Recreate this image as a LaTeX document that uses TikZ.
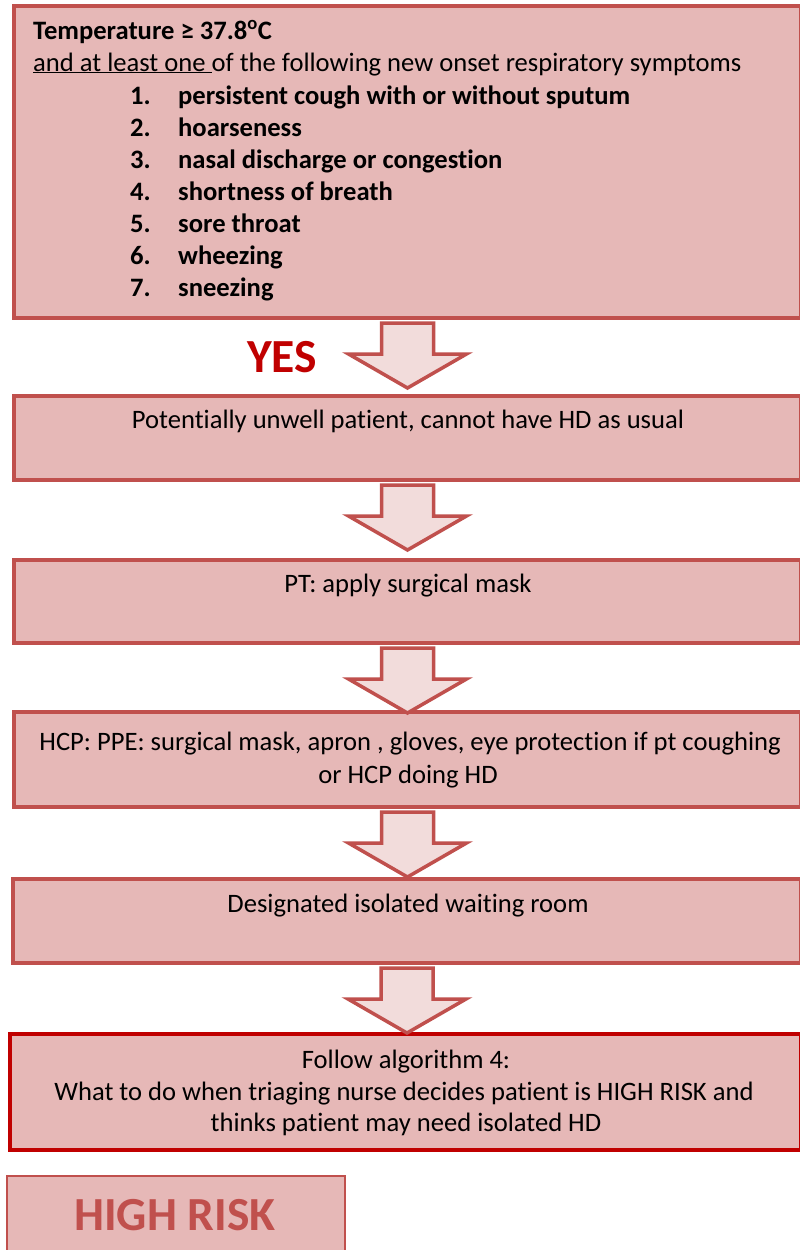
\documentclass[tikz,border=0pt]{standalone}
\usepackage{fontspec}
\setmainfont{Carlito}[Ligatures=CommonOff]
\usetikzlibrary{calc}
\definecolor{boxfill}{HTML}{E6B8B7}
\definecolor{boxline}{HTML}{C0504D}
\definecolor{darkred}{HTML}{C00000}
\definecolor{arrowfill}{HTML}{F2DCDB}
\newcommand\blockarrow[2]{%
  \draw[barrow] ($(#1.south)+(-26,3)$) -- ($(#1.south)+(-26,34)$) -- ($(#1.south)+(-59,34)$)
    -- ($(#1.south)+(0,68)$) -- ($(#1.south)+(59,34)$) -- ($(#1.south)+(26,34)$)
    -- ($(#1.south)+(26,3)$) -- cycle;}
\begin{document}
\begin{tikzpicture}[x=1pt,y=-1pt,
  box/.style={draw=boxline, fill=boxfill, line width=4pt, rectangle, inner sep=0pt, anchor=north west},
  barrow/.style={draw=boxline, fill=arrowfill, line width=3.5pt, line join=miter},
  txt/.style={inner sep=0pt, font=\fontsize{26.6}{32}\selectfont},
  ctxt/.style={txt, anchor=base},
  ltxt/.style={txt, anchor=base west},
  btxt/.style={ltxt, font=\fontsize{26.6}{32}\selectfont\bfseries}]
\clip (0,0) rectangle (800,1250);
\fill[white] (0,0) rectangle (800,1250);
% boxes
\node[box, minimum width=787pt, minimum height=312pt] (b1) at (12,4) {};
\node[box, minimum width=787pt, minimum height=84pt] (b2) at (12,394) {};
\node[box, minimum width=787pt, minimum height=83pt] (b3) at (12,558) {};
\node[box, minimum width=787pt, minimum height=95pt] (b4) at (12,710) {};
\node[box, minimum width=788pt, minimum height=84pt] (b5) at (11,877) {};
\node[box, draw=darkred, line width=3.5pt, minimum width=791pt, minimum height=116pt] (b6) at (8,1032) {};
\node[box, line width=2pt, minimum width=338pt, minimum height=110pt] (hr) at (6,1175) {};
% arrows
\blockarrow{b1}{b2}
\blockarrow{b2}{b3}
\blockarrow{b3}{b4}
\blockarrow{b4}{b5}
\blockarrow{b5}{b6}
% top box text
\node[btxt] (t1) at (33,39) {Temperature ≥ 37.8\textsuperscript{o}C};
\node[ltxt] (t2) at (33,71) {\underline{and at least one\ }of the following new onset respiratory symptoms};
\foreach \i/\s in {1/persistent cough with or without sputum, 2/hoarseness, 3/nasal discharge or congestion, 4/shortness of breath, 5/sore throat, 6/wheezing, 7/sneezing}{
  \node[btxt] (n\i) at (130,{104+32*(\i-1)}) {\i.};
  \node[btxt] (s\i) at (178,{104+32*(\i-1)}) {\s};
}
\node[inner sep=0pt, anchor=base, text=darkred, font=\fontsize{47.5}{47.5}\selectfont\bfseries] (yes) at (282,372) {YES};
% other texts
\node[ctxt] (l2) at (408,428) {Potentially unwell patient, cannot have HD as usual};
\node[ctxt] (l3) at (408,592) {PT: apply surgical mask};
\node[ctxt] (l4a) at (410,750) {HCP: PPE: surgical mask, apron , gloves, eye protection if pt coughing};
\node[ctxt] (l4b) at (408,783) {or HCP doing HD};
\node[ctxt] (l5) at (408,912) {Designated isolated waiting room};
\node[ctxt] (l6a) at (406,1068) {Follow algorithm 4:};
\node[ctxt] (l6b) at (404,1100) {What to do when triaging nurse decides patient is HIGH RISK and};
\node[ctxt] (l6c) at (406,1131) {thinks patient may need isolated HD};
\node[inner sep=0pt, anchor=base, text=boxline, font=\fontsize{47.5}{47.5}\selectfont\bfseries] (hrt) at (175,1230) {HIGH RISK};
\end{tikzpicture}
\end{document}
